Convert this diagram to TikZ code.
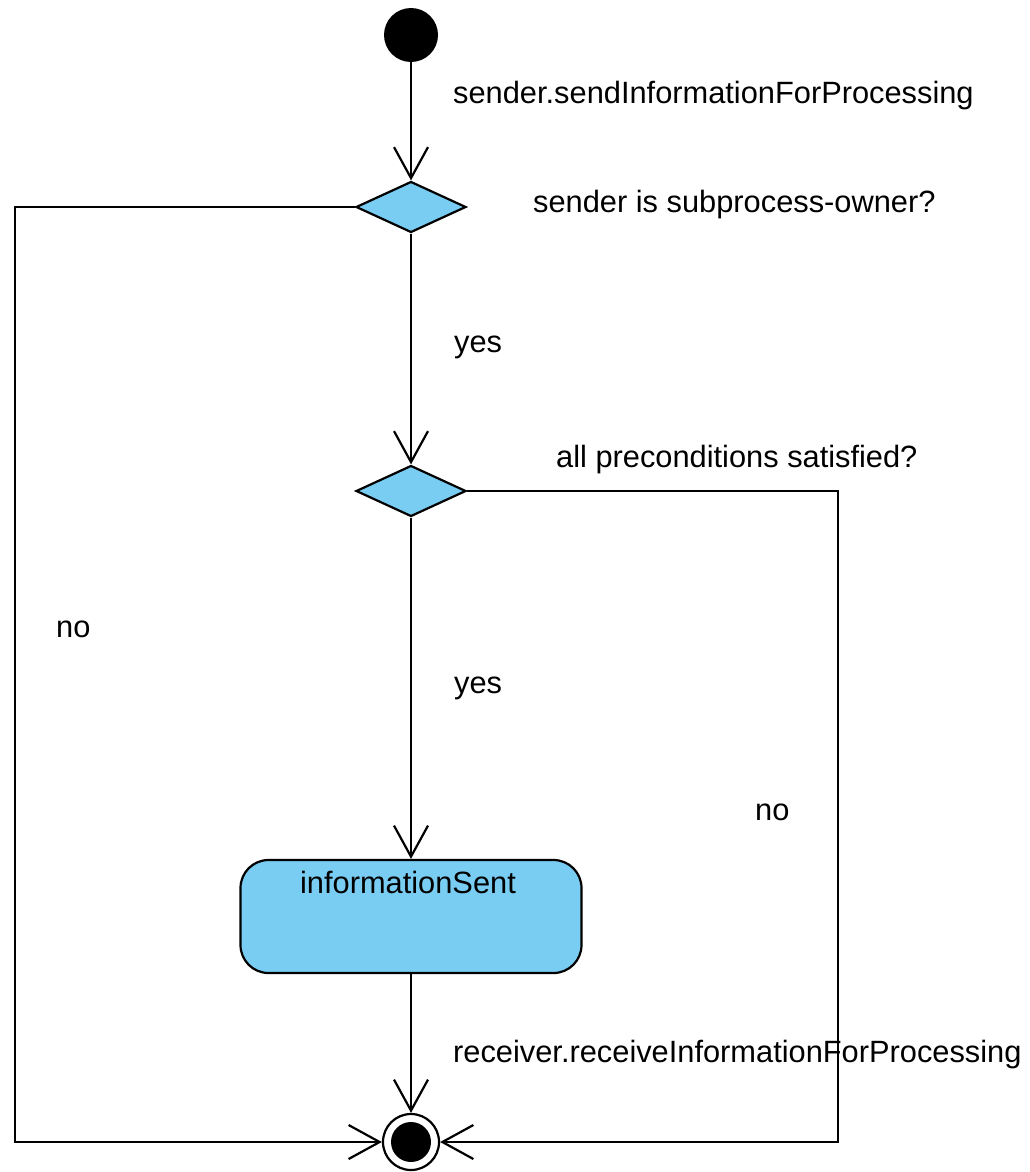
\documentclass[tikz,border=0pt]{standalone}
\usepackage{fontspec}
\setmainfont{Liberation Sans}
\usetikzlibrary{arrows.meta,shapes.geometric}
\definecolor{actfill}{RGB}{121,205,243}
\begin{document}
\begin{tikzpicture}[x=1pt,y=-1pt,
  every node/.style={font=\fontsize{30.8}{36}\selectfont},
  flow/.style={line width=2.2pt,-{Straight Barb[length=31pt,width=34pt]}},
  decision/.style={diamond,draw,line width=2.2pt,fill=actfill,inner sep=0pt,
    minimum width=110pt,minimum height=51pt},
  txt/.style={anchor=base west,inner sep=0pt}]
  \useasboundingbox (0,0) rectangle (1030,1172);

  % start, decisions, activity, end
  \node[circle,fill=black,minimum size=54pt,inner sep=0pt] (start) at (411,35) {};
  \node[decision] (d1) at (411,207) {};
  \node[decision] (d2) at (411,491) {};
  \node[draw,line width=2.2pt,fill=actfill,rounded corners=28pt,
        minimum width=341pt,minimum height=113pt,inner sep=0pt] (act) at (411,916.5) {};
  \node[anchor=base,inner sep=0pt] (actname) at (408,893) {informationSent};
  \node[circle,draw,line width=2.2pt,fill=white,minimum size=56pt,inner sep=0pt] (fin) at (411,1142) {};
  \node[circle,fill=black,minimum size=40pt,inner sep=0pt] (fincore) at (fin) {};

  \coordinate (leftrail) at (15,0);
  \coordinate (rightrail) at (838,0);

  % transitions
  \draw[flow] (start) -- (d1.north);
  \draw[flow] (d1.south) -- (d2.north);
  \draw[flow] (d2.south) -- (act.north);
  \draw[flow] (act.south) -- (fin.north);
  \draw[flow] (d1.west) -- (d1.west -| leftrail) |- (fin.west);
  \draw[flow] (d2.east) -- (d2.east -| rightrail) |- (fin.east);

  % guards and triggers
  \node[txt] (t1) at (453,103) {sender.sendInformationForProcessing};
  \node[txt] (t2) at (533,212) {sender is subprocess-owner?};
  \node[txt] (t3) at (454,352) {yes};
  \node[txt] (t4) at (556,467) {all preconditions satisfied?};
  \node[txt] (t5) at (56,637) {no};
  \node[txt] (t6) at (454,693) {yes};
  \node[txt] (t7) at (755,820) {no};
  \node[txt] (t8) at (453,1062) {receiver.receiveInformationForProcessing};
\end{tikzpicture}
\end{document}
